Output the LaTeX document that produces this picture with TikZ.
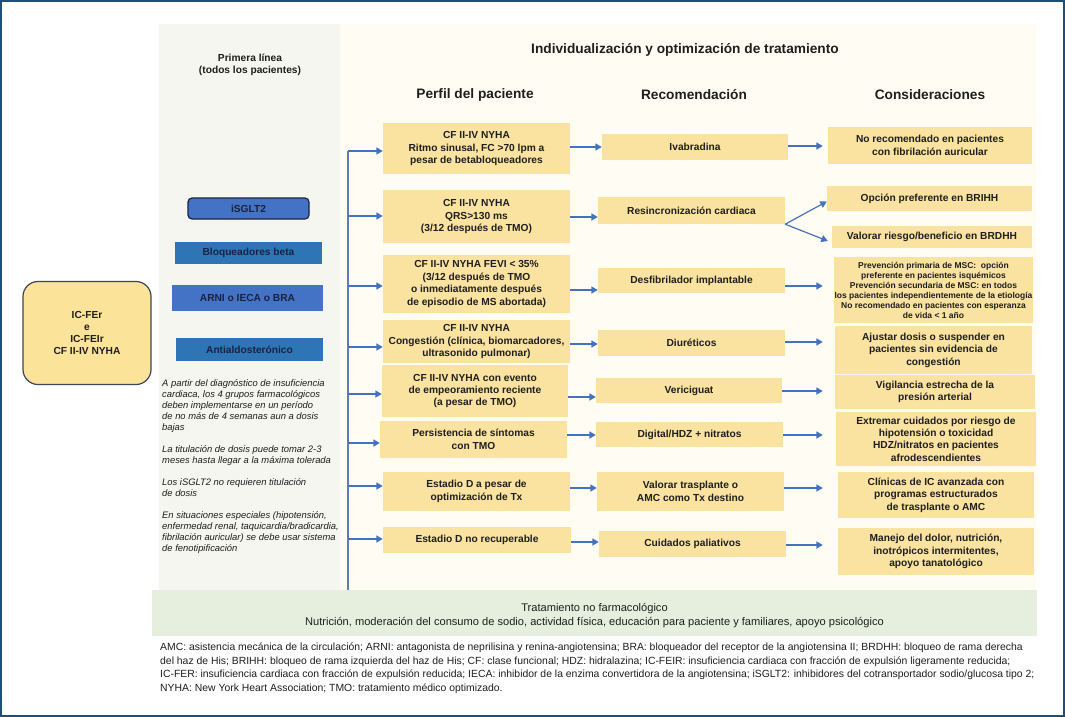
\documentclass[tikz,border=0pt]{standalone}
\usepackage{fontspec}
\setmainfont{Liberation Sans}
\usetikzlibrary{arrows.meta}
\definecolor{framec}{RGB}{31,78,121}
\definecolor{leftc}{RGB}{245,246,240}
\definecolor{creamc}{RGB}{255,252,243}
\definecolor{greenc}{RGB}{230,239,221}
\definecolor{cellc}{RGB}{250,227,161}
\definecolor{icc}{RGB}{252,227,154}
\definecolor{blueA}{RGB}{68,114,196}
\definecolor{blueB}{RGB}{46,117,182}
\definecolor{arrc}{RGB}{68,114,190}
\definecolor{vlinec}{RGB}{95,125,175}
\definecolor{txtc}{RGB}{30,30,30}
\definecolor{navyc}{RGB}{25,35,65}
\definecolor{icborder}{RGB}{58,70,90}
\begin{document}
\begin{tikzpicture}[x=1pt,y=-1pt,
  cell/.style={fill=cellc, inner sep=0pt, align=center, text=txtc, font=\bfseries\fontsize{10.2}{12.4}\selectfont},
  smallcell/.style={cell, font=\bfseries\fontsize{8.5}{10}\selectfont},
  bluebox/.style={inner sep=0pt, align=center, text=navyc, font=\bfseries\fontsize{10.2}{12}\selectfont},
  arr/.style={draw=arrc, line width=1.6pt, -{Triangle[length=6.5pt,width=7pt]}},
  thinarr/.style={draw=arrc, line width=1.2pt, -{Triangle[length=6.5pt,width=7pt]}},
  head/.style={font=\bfseries\fontsize{13.7}{16}\selectfont, text=txtc, inner sep=0pt},
  plain/.style={inner sep=0pt, text=txtc},
]
\useasboundingbox (0,0) rectangle (1065,717);
% background panels
\fill[white] (0,0) rectangle (1065,717);
\fill[leftc] (159,24) rectangle (340,590);
\fill[creamc] (340,24) rectangle (1036,590);
\fill[greenc] (152,590) rectangle (1037,636);
\draw[framec, line width=2pt] (1,1) rectangle (1064,716);

% left panel
\node[plain, align=center, font=\bfseries\fontsize{10.2}{12.5}\selectfont] (pl) at (250,65) {Primera línea\\(todos los pacientes)};
\node[bluebox, fill=blueA, draw=navyc, line width=1.2pt, rounded corners=4pt, minimum width=121, minimum height=21] (sg) at (248.5,208.5) {iSGLT2};
\node[bluebox, fill=blueB, minimum width=147, minimum height=22] (bb) at (248.5,253) {Bloqueadores beta};
\node[bluebox, fill=blueA, minimum width=151, minimum height=26] (ar) at (247.5,298) {ARNI o IECA o BRA};
\node[bluebox, fill=blueB, minimum width=147, minimum height=23] (an) at (249.5,349.5) {Antialdosterónico};
\node[plain, anchor=north west, align=left, font=\itshape\fontsize{9.4}{11}\selectfont] (note) at (162,379) {A partir del diagnóstico de insuficiencia\\cardiaca, los 4 grupos farmacológicos\\deben implementarse en un período\\de no más de 4 semanas aun a dosis\\bajas\\[11pt]La titulación de dosis puede tomar 2-3\\meses hasta llegar a la máxima tolerada\\[11pt]Los iSGLT2 no requieren titulación\\de dosis\\[11pt]En situaciones especiales (hipotensión,\\enfermedad renal, taquicardia/bradicardia,\\fibrilación auricular) se debe usar sistema\\de fenotipificación};

% IC box
\node[fill=icc, draw=icborder, line width=1.2pt, rounded corners=15pt, minimum width=128, minimum height=103, inner sep=0pt, align=center, text=txtc, font=\bfseries\fontsize{10.2}{12.3}\selectfont] (ic) at (87,333) {IC-FEr\\e\\IC-FEIr\\CF II-IV NYHA};

% headings
\node[head] (h0) at (685,50) {Individualización y optimización de tratamiento};
\node[head] (h1) at (475,95) {Perfil del paciente};
\node[head] (h2) at (694,95) {Recomendación};
\node[head] (h3) at (930,95) {Consideraciones};

% column 1
\node[cell, minimum width=187, minimum height=51] (b1) at (476.5,148.5) {CF II-IV NYHA\\Ritmo sinusal, FC >70 lpm a\\pesar de betabloqueadores};
\node[cell, minimum width=187, minimum height=53] (b2) at (476.5,216.5) {CF II-IV NYHA\\QRS>130 ms\\(3/12 después de TMO)};
\node[cell, minimum width=187, minimum height=58] (b3) at (476.5,284) {CF II-IV NYHA FEVI < 35\%\\(3/12 después de TMO\\o inmediatamente después\\de episodio de MS abortada)};
\node[cell, minimum width=187, minimum height=43] (b4) at (476.5,341.5) {CF II-IV NYHA\\Congestión (clínica, biomarcadores,\\ultrasonido pulmonar)};
\node[cell, minimum width=186, minimum height=52] (b5) at (475,391) {CF II-IV NYHA con evento\\de empeoramiento reciente\\(a pesar de TMO)};
\node[cell, minimum width=187, minimum height=37] (b6) at (473.5,439.5) {Persistencia de síntomas\\con TMO};
\node[cell, minimum width=187, minimum height=39] (b7) at (476.5,491.5) {Estadio D a pesar de\\optimización de Tx};
\node[cell, minimum width=188, minimum height=26] (b8) at (477,540) {Estadio D no recuperable};

% column 2
\node[cell, minimum width=186, minimum height=26] (r1) at (695,147) {Ivabradina};
\node[cell, minimum width=187, minimum height=27] (r2) at (691.5,210.5) {Resincronización cardiaca};
\node[cell, minimum width=187, minimum height=25] (r3) at (691.5,280.5) {Desfibrilador implantable};
\node[cell, minimum width=187, minimum height=26] (r4) at (691.5,343) {Diuréticos};
\node[cell, minimum width=186, minimum height=25] (r5) at (689,390.5) {Vericiguat};
\node[cell, minimum width=187, minimum height=25] (r6) at (689.5,434.5) {Digital/HDZ + nitratos};
\node[cell, minimum width=187, minimum height=39] (r7) at (690.5,491.5) {Valorar trasplante o\\AMC como Tx destino};
\node[cell, minimum width=187, minimum height=26] (r8) at (692.5,544) {Cuidados paliativos};

% column 3
\node[cell, minimum width=204, minimum height=37] (cA) at (930,145.5) {No recomendado en pacientes\\con fibrilación auricular};
\node[cell, minimum width=205, minimum height=25] (cB) at (929.5,198.5) {Opción preferente en BRIHH};
\node[cell, minimum width=200, minimum height=22] (cC) at (932,237) {Valorar riesgo/beneficio en BRDHH};
\node[smallcell, minimum width=199, minimum height=66] (cD) at (933.5,290) {Prevención primaria de MSC:\ \ opción\\preferente en pacientes isquémicos\\Prevención secundaria de MSC: en todos\\los pacientes independientemente de la etiología\\No recomendado en pacientes con esperanza\\de vida < 1 año};
\node[cell, minimum width=197, minimum height=48] (cE) at (933.5,350) {Ajustar dosis o suspender en\\pacientes sin evidencia de\\congestión};
\node[cell, minimum width=200, minimum height=34] (cF) at (935,392) {Vigilancia estrecha de la\\presión arterial};
\node[cell, minimum width=200, minimum height=54] (cG) at (936,439) {Extremar cuidados por riesgo de\\hipotensión o toxicidad\\HDZ/nitratos en pacientes\\afrodescendientes};
\node[cell, minimum width=196, minimum height=46] (cH) at (936,495) {Clínicas de IC avanzada con\\programas estructurados\\de trasplante o AMC};
\node[cell, minimum width=196, minimum height=47] (cI) at (936,551.5) {Manejo del dolor, nutrición,\\inotrópicos intermitentes,\\apoyo tanatológico};

% vertical connector
\coordinate (vtop) at (348,151);
\coordinate (vbot) at (348,590);
\draw[draw=vlinec, line width=1.3pt] (vtop) -- (vbot);
\foreach \n/\yy in {b1/151,b2/216,b3/286,b4/347,b5/394,b6/443,b7/486,b8/539}
  \draw[arr] (vtop |- 0,\yy) -- (\n.west |- 0,\yy);

% column 1 -> column 2
\foreach \a/\b/\yy in {b1/r1/147,b2/r2/217,b3/r3/290,b4/r4/344,b5/r5/397,b6/r6/435,b7/r7/488,b8/r8/542}
  \draw[arr] (\a.east |- 0,\yy) -- (\b.west |- 0,\yy);

% column 2 -> column 3
\foreach \a/\b/\yy/\s in {r1/cA/146/5,r3/cD/286/11,r4/cE/342/12,r5/cF/391/12,r6/cG/435/13,r7/cH/488/15,r8/cI/545/15}
  \draw[arr, shorten >=\s] (\a.east |- 0,\yy) -- (\b.west |- 0,\yy);
\draw[thinarr] (r2.south east) -- ([yshift=-3pt]cB.west);
\draw[thinarr] (r2.south east) -- ([shift={(-4pt,-4pt)}]cC.west);

% non-pharmacological band
\node[plain, align=center, font=\fontsize{11.1}{14}\selectfont] (nf) at (594.5,616) {Tratamiento no farmacológico\\Nutrición, moderación del consumo de sodio, actividad física, educación para paciente y familiares, apoyo psicológico};

% footnote
\node[plain, anchor=north west, align=left, font=\fontsize{10.4}{13.4}\selectfont] (fn) at (160,643) {AMC: asistencia mecánica de la circulación; ARNI: antagonista de neprilisina y renina-angiotensina; BRA: bloqueador del receptor de la angiotensina II; BRDHH: bloqueo de rama derecha\\del haz de His; BRIHH: bloqueo de rama izquierda del haz de His; CF: clase funcional; HDZ: hidralazina; IC-FEIR: insuficiencia cardiaca con fracción de expulsión ligeramente reducida;\\IC-FER: insuficiencia cardiaca con fracción de expulsión reducida; IECA: inhibidor de la enzima convertidora de la angiotensina; iSGLT2: inhibidores del cotransportador sodio/glucosa tipo 2;\\NYHA: New York Heart Association; TMO: tratamiento médico optimizado.};
\end{tikzpicture}
\end{document}
